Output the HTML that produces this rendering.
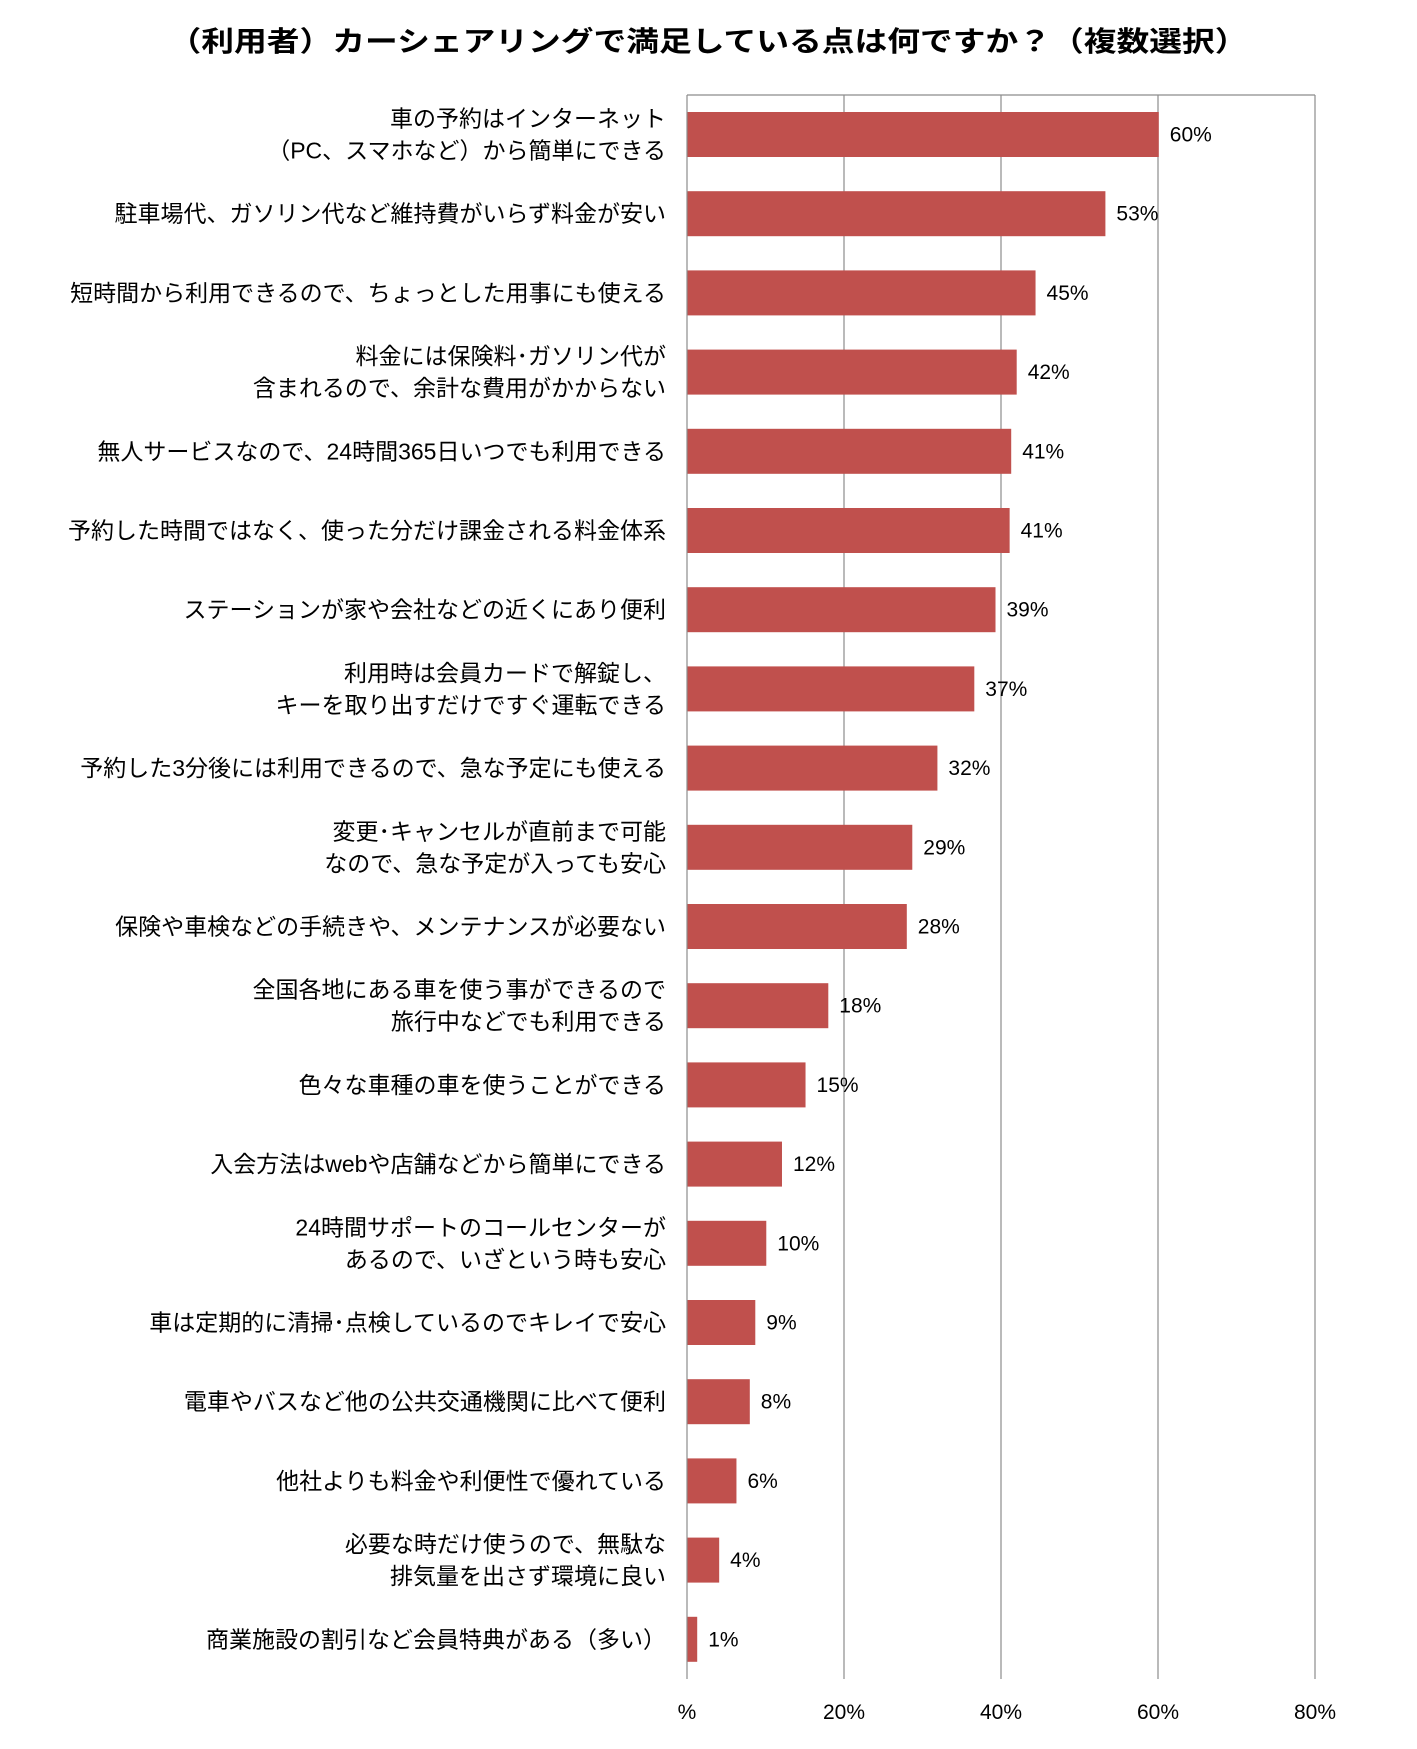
<!DOCTYPE html>
<html><head><meta charset="utf-8"><style>
html,body{margin:0;padding:0;background:#fff;}
svg text{font-family:"Liberation Sans","Noto Sans CJK JP",sans-serif;fill:#000;}
</style></head><body>
<svg width="1417" height="1744" viewBox="0 0 1417 1744" xmlns="http://www.w3.org/2000/svg">
<text x="708" y="51" text-anchor="middle" font-size="28" font-weight="bold" textLength="1079" lengthAdjust="spacingAndGlyphs">（利用者）カーシェアリングで満足している点は何ですか？（複数選択）</text>
<g stroke="#8c8c8c" stroke-width="1.2">
<line x1="687" y1="95" x2="1315" y2="95"/>
<line x1="844" y1="95" x2="844" y2="1679"/>
<line x1="1001" y1="95" x2="1001" y2="1679"/>
<line x1="1158" y1="95" x2="1158" y2="1679"/>
<line x1="1315" y1="95" x2="1315" y2="1679"/>
</g>
<g id="bars" fill="#c0504d"></g>
<line x1="687" y1="95" x2="687" y2="1679" stroke="#8c8c8c" stroke-width="1.2"/>
<g font-size="21" text-anchor="middle">
<text x="687" y="1719">%</text><text x="844" y="1719">20%</text><text x="1001" y="1719">40%</text><text x="1158" y="1719">60%</text><text x="1315" y="1719">80%</text>
</g>
<g id="labels" font-size="23" text-anchor="end"></g>
<g id="vals" font-size="21"></g>
<script>
var d=[
[["車の予約はインターネット","（PC、スマホなど）から簡単にできる"],60.1,"60%"],
[["駐車場代、ガソリン代など維持費がいらず料金が安い"],53.3,"53%"],
[["短時間から利用できるので、ちょっとした用事にも使える"],44.4,"45%"],
[["料金には保険料･ガソリン代が","含まれるので、余計な費用がかからない"],42,"42%"],
[["無人サービスなので、24時間365日いつでも利用できる"],41.3,"41%"],
[["予約した時間ではなく、使った分だけ課金される料金体系"],41.1,"41%"],
[["ステーションが家や会社などの近くにあり便利"],39.3,"39%"],
[["利用時は会員カードで解錠し、","キーを取り出すだけですぐ運転できる"],36.6,"37%"],
[["予約した3分後には利用できるので、急な予定にも使える"],31.9,"32%"],
[["変更･キャンセルが直前まで可能","なので、急な予定が入っても安心"],28.7,"29%"],
[["保険や車検などの手続きや、メンテナンスが必要ない"],28,"28%"],
[["全国各地にある車を使う事ができるので","旅行中などでも利用できる"],18,"18%"],
[["色々な車種の車を使うことができる"],15.1,"15%"],
[["入会方法はwebや店舗などから簡単にできる"],12.1,"12%"],
[["24時間サポートのコールセンターが","あるので、いざという時も安心"],10.1,"10%"],
[["車は定期的に清掃･点検しているのでキレイで安心"],8.7,"9%"],
[["電車やバスなど他の公共交通機関に比べて便利"],8,"8%"],
[["他社よりも料金や利便性で優れている"],6.3,"6%"],
[["必要な時だけ使うので、無駄な","排気量を出さず環境に良い"],4.1,"4%"],
[["商業施設の割引など会員特典がある（多い）"],1.3,"1%"]];
var ns="http://www.w3.org/2000/svg",B=document.getElementById("bars"),L=document.getElementById("labels"),V=document.getElementById("vals");
function el(t,a,p,tx){var e=document.createElementNS(ns,t);for(var k in a)e.setAttribute(k,a[k]);if(tx)e.textContent=tx;p.appendChild(e);}
d.forEach(function(r,i){
 var top=95+i*79.2+17,cy=top+22.5,w=r[1]*7.85;
 el("rect",{x:687,y:top,width:w,height:45},B);
 el("text",{x:687+w+11,y:cy+7},V,r[2]);
 if(r[0].length==1)el("text",{x:666,y:cy+8},L,r[0][0]);
 else{el("text",{x:666,y:cy-8},L,r[0][0]);el("text",{x:666,y:cy+24},L,r[0][1]);}
});
</script>
</svg>
</body></html>
